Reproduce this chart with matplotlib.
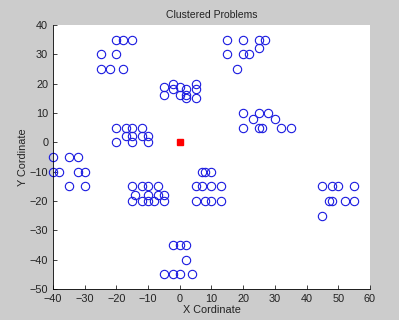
import matplotlib
matplotlib.use("Agg")
import matplotlib.pyplot as plt

# Problem locations (x, y)
px = [-20, -18, -15, -25, -20, -25, -22, -18,
      -5, -5, -2, -2, 0, 0, 2, 2, 2, 5, 5, 5,
      15, 20, 25, 27, 15, 20, 22, 25, 18,
      20, 23, 25, 28, 30, 20, 25, 26, 32, 35,
      -20, -17, -15, -12, -17, -15, -12, -10, -20, -15, -10,
      -40, -35, -32, -40, -38, -32, -30, -35, -30,
      -15, -12, -10, -7, -14, -10, -7, -5, -15, -12, -10, -8, -5,
      7, 8, 10, 5, 7, 10, 13, 5, 8, 10, 13,
      -2, 0, 2, 2, -5, -2, 0, 4,
      45, 48, 50, 55, 47, 48, 52, 55, 45]
py = [35, 35, 35, 30, 30, 25, 25, 25,
      19, 16, 20, 18, 19, 16, 18, 16, 15, 20, 18, 15,
      35, 35, 35, 35, 30, 30, 30, 32, 25,
      10, 8, 10, 10, 8, 5, 5, 5, 5, 5,
      5, 5, 5, 5, 2, 2, 2, 2, 0, 0, 0,
      -5, -5, -5, -10, -10, -10, -10, -15, -15,
      -15, -15, -15, -15, -18, -18, -18, -18, -20, -20, -20, -20, -20,
      -10, -10, -10, -15, -15, -15, -15, -20, -20, -20, -20,
      -35, -35, -35, -40, -45, -45, -45, -45,
      -15, -15, -15, -15, -20, -20, -20, -20, -25]
depot_x = [0]
depot_y = [0]
xticks = list(range(-40, 61, 10))
yticks = list(range(-50, 41, 10))

plt.rcParams['font.family'] = ['Liberation Sans', 'DejaVu Sans']
fig = plt.figure(figsize=(3.99, 3.20), dpi=100, facecolor='#cccccc')
ax = fig.add_axes([0.133, 0.097, 0.794, 0.825])
ax.plot(px, py, 'o', markerfacecolor='none', markeredgecolor='#1a1ae0',
        markersize=6.0, markeredgewidth=0.8, linestyle='none', clip_on=False)
ax.plot(depot_x, depot_y, 's', color='red', markersize=4.8, linestyle='none')
ax.set_xlim(-40, 60)
ax.set_ylim(-50, 40)
ax.set_xticks(xticks)
ax.set_yticks(yticks)
ax.tick_params(direction='in', labelsize=7.8, length=3, width=0.6, colors='#222222')
for s in ['top', 'right']:
    ax.spines[s].set_visible(False)
for s in ['left', 'bottom']:
    ax.spines[s].set_linewidth(0.6)
ax.set_title('Clustered Problems', fontsize=7.5, pad=5, color='#222222')
ax.set_xlabel('X Cordinate', fontsize=7.8, labelpad=1, color='#222222')
ax.set_ylabel('Y Cordinate', fontsize=7.8, labelpad=1, color='#222222')
fig.savefig('out.png', dpi=100, facecolor=fig.get_facecolor())
